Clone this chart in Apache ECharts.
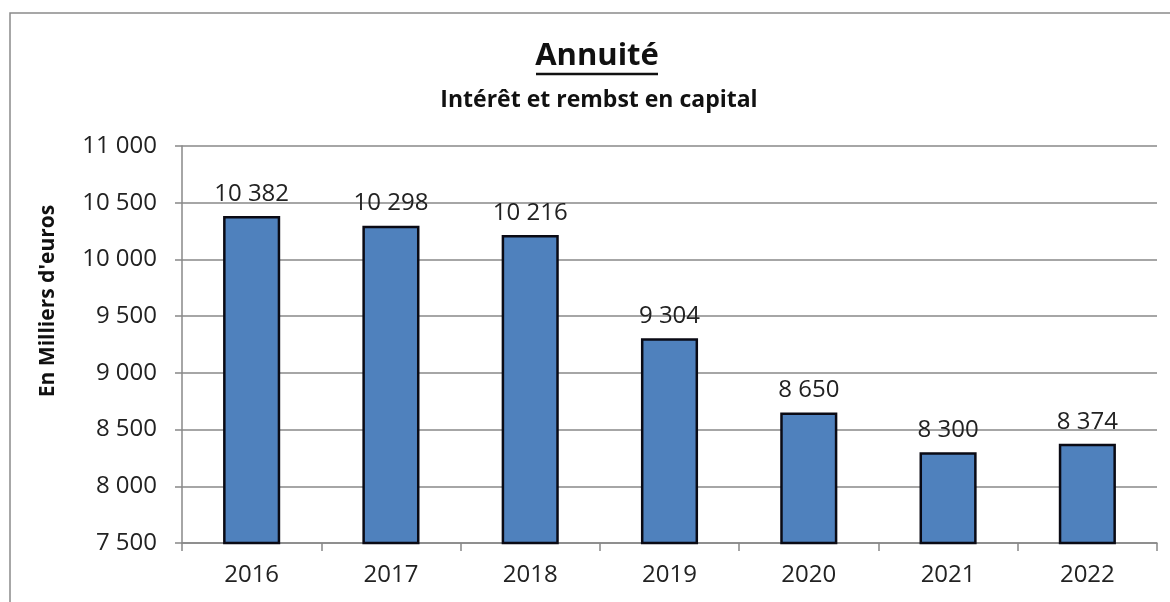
<!DOCTYPE html>
<html>
<head>
<meta charset="utf-8">
<script src="https://cdn.jsdelivr.net/npm/echarts@6/dist/echarts.min.js"></script>
<style>
html,body{margin:0;padding:0;background:#fff;}
#chart{width:1170px;height:602px;}
</style>
</head>
<body>
<div id="chart"></div>
<script>
// données
var years = ['2016', '2017', '2018', '2019', '2020', '2021', '2022'];
var annuite = [10382, 10298, 10216, 9304, 8650, 8300, 8374];
var yMin = 7500, yMax = 11000, yStep = 500;

function fmt(v) {
  // séparateur de milliers : espace
  return String(v).replace(/\B(?=(\d{3})+(?!\d))/g, ' ');
}

var font = '"Open Sans", sans-serif';
var myChart = echarts.init(document.getElementById('chart'));
var option = {
  backgroundColor: '#fff',
  animation: false,
  graphic: [
    { type: 'rect', shape: { x: 10, y: 13, width: 1300, height: 800 }, style: { fill: 'none', stroke: '#8a8a8a', lineWidth: 1.5 }, silent: true },
    // titre + soulignement
    { type: 'text', x: 597, y: 56, style: { text: 'Annuité', font: 'bold 31px ' + font, fill: '#111', textAlign: 'center', textVerticalAlign: 'middle' } },
    { type: 'line', shape: { x1: 536, y1: 74, x2: 658, y2: 74 }, style: { stroke: '#111', lineWidth: 2.5 }, silent: true },
    { type: 'text', x: 599, y: 100, style: { text: 'Intérêt et rembst en capital', font: 'bold 23px ' + font, fill: '#111', textAlign: 'center', textVerticalAlign: 'middle' } },
    { type: 'text', x: 48, y: 301, rotation: Math.PI / 2, style: { text: "En Milliers d'euros", font: 'bold 21px ' + font, fill: '#111', textAlign: 'center', textVerticalAlign: 'middle' } }
  ],
  grid: { left: 182, right: 13, top: 146, bottom: 59 },
  xAxis: {
    type: 'category',
    data: years,
    axisLine: { lineStyle: { color: '#888', width: 1.5 } },
    axisTick: { show: true, alignWithLabel: false, length: 8, lineStyle: { color: '#888', width: 1.5 } },
    axisLabel: { fontFamily: font, fontSize: 24, color: '#222', margin: 20 }
  },
  yAxis: {
    type: 'value',
    min: yMin, max: yMax, interval: yStep,
    axisLine: { show: true, lineStyle: { color: '#888', width: 1.5 } },
    axisTick: { show: true, length: 7, lineStyle: { color: '#888', width: 1.5 } },
    splitLine: { lineStyle: { color: '#888', width: 1.5 } },
    axisLabel: { fontFamily: font, fontSize: 24, color: '#222', margin: 25, formatter: fmt }
  },
  series: [{
    type: 'bar',
    data: annuite,
    barWidth: '41%',
    itemStyle: { color: '#4f81bd', borderColor: '#0a0a14', borderWidth: 2.5 },
    label: {
      show: true, position: 'top', distance: 10,
      fontFamily: font, fontSize: 24, color: '#222',
      formatter: function (p) { return fmt(p.value); }
    }
  }]
};
myChart.setOption(option);
</script>
</body>
</html>
